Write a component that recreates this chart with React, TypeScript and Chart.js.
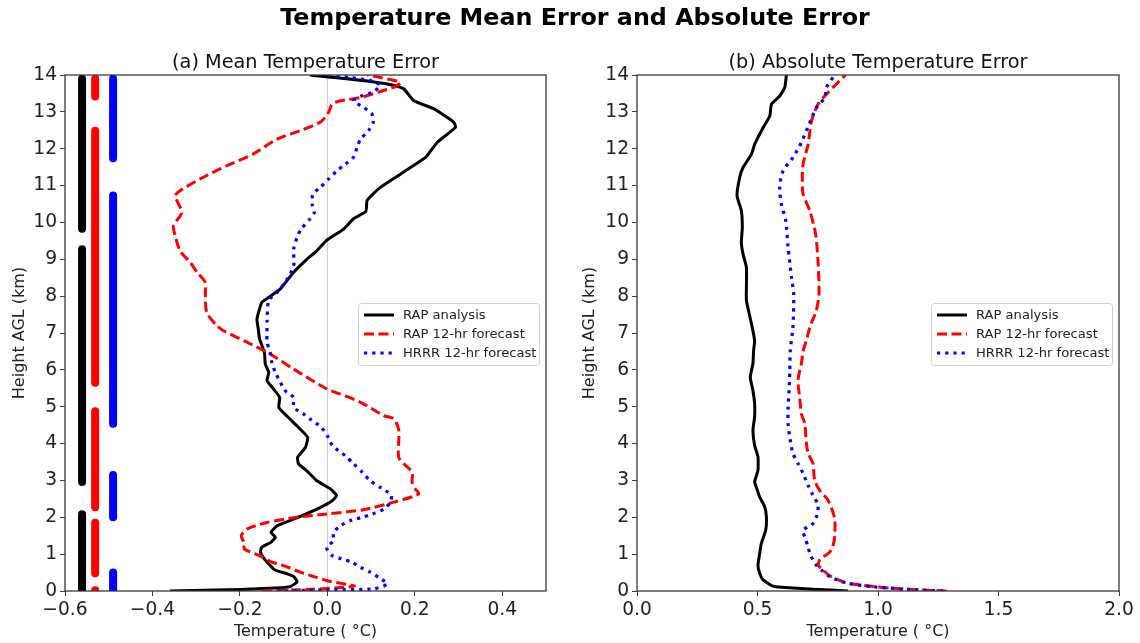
import React, { useEffect, useRef } from "react";
import { Chart, registerables } from "chart.js";

Chart.register(...registerables);

const FONT = "'DejaVu Sans', 'Liberation Sans', sans-serif";

type Profile = [number, number][]; // [height AGL (km), temperature error (°C)]

// ---- (a) Mean temperature error profiles ----
const meanRapAnalysis: Profile = [
  [0.0, -0.36], [0.04, -0.2], [0.08, -0.12], [0.12, -0.085], [0.25, -0.069], [0.39, -0.077],
  [0.46, -0.09], [0.57, -0.12], [0.75, -0.135], [0.9, -0.146], [1.05, -0.153], [1.19, -0.15],
  [1.32, -0.129], [1.46, -0.119], [1.59, -0.129], [1.77, -0.115], [1.95, -0.077], [2.22, -0.024],
  [2.45, 0.011], [2.59, 0.021], [2.77, 0.007], [2.99, -0.024], [3.26, -0.047], [3.45, -0.066],
  [3.63, -0.068], [3.9, -0.05], [4.17, -0.045], [4.39, -0.062], [4.74, -0.092], [4.98, -0.111],
  [5.25, -0.109], [5.48, -0.123], [5.71, -0.138], [5.93, -0.134], [6.16, -0.142], [6.47, -0.144],
  [6.84, -0.155], [7.11, -0.158], [7.38, -0.161], [7.83, -0.15], [7.97, -0.134], [8.19, -0.108],
  [8.65, -0.077], [9.0, -0.047], [9.23, -0.024], [9.5, -0.003], [9.82, 0.037], [10.1, 0.06],
  [10.3, 0.088], [10.6, 0.091], [10.95, 0.121], [11.31, 0.167], [11.77, 0.225], [12.17, 0.251],
  [12.58, 0.293], [12.72, 0.289], [13.08, 0.244], [13.3, 0.198], [13.62, 0.175], [13.71, 0.156],
  [13.84, 0.091], [14.0, -0.04],
];

const meanRapForecast: Profile = [
  [0.0, -0.15], [0.05, -0.03], [0.1, 0.04], [0.14, 0.062], [0.2, 0.035], [0.28, 0.0],
  [0.37, -0.025], [0.51, -0.062], [0.69, -0.1], [0.8, -0.13], [0.96, -0.155], [1.14, -0.19],
  [1.3, -0.19], [1.5, -0.197], [1.68, -0.184], [1.86, -0.138], [2.0, -0.07], [2.09, -0.001],
  [2.2, 0.08], [2.41, 0.152], [2.63, 0.209], [2.77, 0.201], [2.95, 0.194], [3.22, 0.194],
  [3.45, 0.175], [3.63, 0.163], [3.99, 0.163], [4.39, 0.163], [4.67, 0.152], [4.76, 0.129],
  [5.12, 0.076], [5.34, 0.03], [5.48, -0.001], [6.02, -0.077], [6.48, -0.138], [6.75, -0.184],
  [7.06, -0.237], [7.2, -0.253], [7.56, -0.276], [8.1, -0.279], [8.37, -0.279], [8.65, -0.298],
  [8.92, -0.314], [9.23, -0.337], [9.64, -0.348], [9.91, -0.352], [10.27, -0.333], [10.72, -0.348],
  [10.86, -0.337], [11.18, -0.291], [11.54, -0.23], [11.86, -0.169], [12.26, -0.115], [12.49, -0.062],
  [12.72, -0.016], [12.85, -0.005], [12.99, 0.003], [13.21, 0.011], [13.3, 0.03], [13.39, 0.076],
  [13.55, 0.12], [13.67, 0.152], [13.8, 0.167], [13.93, 0.121], [14.0, 0.091],
];

const meanHrrrForecast: Profile = [
  [0.0, -0.115], [0.03, 0.0], [0.06, 0.106], [0.19, 0.137], [0.34, 0.121], [0.51, 0.098],
  [0.64, 0.076], [0.78, 0.056], [0.87, 0.033], [0.96, 0.011], [1.14, -0.001], [1.22, 0.0],
  [1.36, 0.014], [1.59, 0.014], [1.77, 0.03], [1.91, 0.053], [2.0, 0.08], [2.09, 0.103],
  [2.22, 0.129], [2.41, 0.144], [2.6, 0.146], [2.81, 0.121], [2.99, 0.098], [3.22, 0.08],
  [3.45, 0.06], [3.67, 0.041], [3.94, 0.012], [4.21, 0.0], [4.44, -0.014], [4.67, -0.04],
  [4.8, -0.054], [4.98, -0.077], [5.25, -0.077], [5.43, -0.096], [5.93, -0.119], [6.2, -0.127],
  [6.48, -0.131], [6.75, -0.138], [7.02, -0.138], [7.33, -0.138], [7.88, -0.134], [8.1, -0.115],
  [8.46, -0.092], [8.83, -0.077], [9.28, -0.077], [9.6, -0.069], [9.82, -0.06], [10.09, -0.04],
  [10.27, -0.03], [10.5, -0.035], [10.77, -0.033], [10.95, -0.016], [11.18, 0.003], [11.4, 0.022],
  [11.58, 0.041], [11.77, 0.06], [12.04, 0.068], [12.26, 0.076], [12.49, 0.094], [12.72, 0.105],
  [12.94, 0.102], [13.12, 0.083], [13.3, 0.06], [13.44, 0.08], [13.53, 0.102], [13.71, 0.121],
  [13.84, 0.102], [13.93, 0.053], [14.0, 0.0],
];

// Height ranges (km) where each mean error is flagged significant, and the column each is drawn in
const sigRapAnalysis: [number, number][] = [[0, 2.08], [2.96, 9.27], [9.83, 13.9]];
const sigRapForecast: [number, number][] = [[0, 0.02], [0.48, 1.85], [2.27, 4.88], [5.65, 12.49], [13.42, 13.9]];
const sigHrrrForecast: [number, number][] = [[0, 0.5], [2.0, 3.15], [4.54, 10.73], [11.74, 13.9]];
const sigColumns = { rapAnalysis: -0.561, rapForecast: -0.531, hrrrForecast: -0.49 };

// ---- (b) Absolute temperature error profiles ----
const absRapAnalysis: Profile = [
  [0.0, 0.876], [0.05, 0.73], [0.1, 0.6], [0.13, 0.564], [0.3, 0.523], [0.48, 0.509],
  [0.7, 0.502], [1.02, 0.509], [1.29, 0.516], [1.65, 0.534], [2.01, 0.537], [2.28, 0.53],
  [2.55, 0.509], [2.82, 0.495], [2.96, 0.488], [3.28, 0.502], [3.64, 0.502], [3.95, 0.488],
  [4.36, 0.481], [4.72, 0.488], [5.08, 0.488], [5.44, 0.481], [5.8, 0.47], [6.17, 0.481],
  [6.53, 0.484], [6.8, 0.488], [7.25, 0.475], [7.88, 0.454], [8.24, 0.454], [8.78, 0.454],
  [9.14, 0.44], [9.46, 0.433], [9.86, 0.437], [10.32, 0.433], [10.72, 0.415], [11.22, 0.426],
  [11.49, 0.44], [11.85, 0.475], [12.12, 0.488], [12.57, 0.523], [12.89, 0.551], [13.21, 0.558],
  [13.43, 0.592], [13.66, 0.613], [14.0, 0.62],
];

const absRapForecast: Profile = [
  [0.0, 1.284], [0.05, 1.118], [0.12, 0.98], [0.22, 0.869], [0.41, 0.8], [0.57, 0.772],
  [0.7, 0.752], [0.84, 0.758], [1.06, 0.8], [1.2, 0.812], [1.47, 0.82], [1.97, 0.82],
  [2.46, 0.793], [2.73, 0.758], [3.01, 0.737], [3.46, 0.73], [3.73, 0.71], [4.0, 0.703],
  [4.54, 0.696], [4.81, 0.682], [5.26, 0.675], [5.71, 0.668], [6.17, 0.682], [6.53, 0.69],
  [6.84, 0.705], [7.16, 0.717], [7.61, 0.744], [8.06, 0.755], [8.96, 0.751], [9.69, 0.741],
  [10.32, 0.717], [10.77, 0.689], [11.22, 0.686], [11.58, 0.689], [12.12, 0.71], [12.75, 0.724],
  [13.21, 0.751], [13.43, 0.779], [13.66, 0.813], [14.0, 0.865],
];

const absHrrrForecast: Profile = [
  [0.0, 1.27], [0.05, 1.11], [0.12, 0.975], [0.22, 0.865], [0.41, 0.795], [0.57, 0.765],
  [0.7, 0.744], [0.84, 0.73], [1.02, 0.717], [1.2, 0.71], [1.47, 0.696], [1.65, 0.689],
  [1.83, 0.73], [2.06, 0.747], [2.33, 0.751], [2.6, 0.73], [2.87, 0.71], [3.19, 0.689],
  [3.46, 0.668], [3.73, 0.647], [4.09, 0.636], [4.54, 0.627], [4.99, 0.627], [5.44, 0.631],
  [5.98, 0.634], [6.53, 0.636], [7.16, 0.647], [8.06, 0.65], [8.51, 0.641], [9.32, 0.627],
  [10.05, 0.617], [10.5, 0.599], [10.95, 0.592], [11.4, 0.606], [11.76, 0.647], [12.17, 0.682],
  [12.71, 0.717], [13.11, 0.744], [13.38, 0.779], [13.66, 0.786], [14.0, 0.82],
];

// Axis ranges and tick values
const heightRange = [0, 14];
const heightTicks = [0, 1, 2, 3, 4, 5, 6, 7, 8, 9, 10, 11, 12, 13, 14];
const meanRange = [-0.6, 0.5];
const meanTicks = [-0.6, -0.4, -0.2, 0.0, 0.2, 0.4];
const absRange = [0, 2];
const absTicks = [0.0, 0.5, 1.0, 1.5, 2.0];

const seriesLabels = ["RAP analysis", "RAP 12-hr forecast", "HRRR 12-hr forecast"];

// ---- styling ----
const STYLES = [
  { color: "#000000", width: 3, dash: [] as number[], tension: 0.15 },
  { color: "#ff0000", width: 3, dash: [10, 4.5], tension: 0.25 },
  { color: "#0000ff", width: 3.2, dash: [3.2, 5], tension: 0.25 },
];

const toXY = (p: Profile) => p.map(([h, t]) => ({ x: t, y: h }));

function barData(x: number, ranges: [number, number][]) {
  const out: { x: number; y: number | null }[] = [];
  ranges.forEach(([a, b]) => {
    out.push({ x, y: a }, { x, y: b }, { x, y: null });
  });
  return out;
}

function profileDataset(p: Profile, i: number) {
  const s = STYLES[i];
  return {
    label: seriesLabels[i],
    data: toXY(p),
    showLine: true,
    borderColor: s.color,
    backgroundColor: s.color,
    borderWidth: s.width,
    borderDash: s.dash,
    borderCapStyle: "butt" as const,
    borderJoinStyle: "round" as const,
    tension: s.tension,
    pointRadius: 0,
    pointHoverRadius: 0,
    fill: false,
    clip: 0,
    order: 2 - i,
  };
}

function barDataset(x: number, ranges: [number, number][], color: string) {
  return {
    label: "",
    data: barData(x, ranges),
    showLine: true,
    borderColor: color,
    borderWidth: 8,
    borderCapStyle: "round" as const,
    pointRadius: 0,
    pointHoverRadius: 0,
    spanGaps: false,
    fill: false,
    clip: 0,
    order: 5,
  };
}

function fmtTick(v: number) {
  const r = Math.abs(v) < 1e-9 ? 0 : v;
  return r.toFixed(1).replace("-", "\u2212");
}

const frameAndLegend = (title: string) => ({
  id: "frameAndLegend",
  afterDraw(chart: Chart) {
    const { ctx, chartArea: a } = chart;
    ctx.save();
    // full frame
    ctx.strokeStyle = "#3a3a3a";
    ctx.lineWidth = 1.3;
    ctx.setLineDash([]);
    ctx.strokeRect(a.left, a.top, a.right - a.left, a.bottom - a.top);

    // panel title
    ctx.fillStyle = "#111";
    ctx.font = `19.3px ${FONT}`;
    ctx.textAlign = "center";
    ctx.textBaseline = "alphabetic";
    ctx.fillText(title, (a.left + a.right) / 2, a.top - 7);

    // legend box
    const bx = a.right - 188;
    const by = a.top + 228;
    const bw = 181;
    const bh = 62;
    ctx.fillStyle = "rgba(255,255,255,0.85)";
    ctx.strokeStyle = "#d0d0d0";
    ctx.lineWidth = 1;
    ctx.beginPath();
    (ctx as any).roundRect(bx + 0.5, by + 0.5, bw, bh, 3);
    ctx.fill();
    ctx.stroke();

    ctx.font = `13.1px ${FONT}`;
    ctx.textAlign = "left";
    ctx.textBaseline = "middle";
    seriesLabels.forEach((lbl, i) => {
      const s = STYLES[i];
      const y = by + 12 + i * 19;
      ctx.strokeStyle = s.color;
      ctx.lineWidth = s.width;
      ctx.setLineDash(s.dash);
      ctx.lineCap = "butt";
      ctx.beginPath();
      ctx.moveTo(bx + 6, y);
      ctx.lineTo(bx + 36, y);
      ctx.stroke();
      ctx.setLineDash([]);
      ctx.fillStyle = "#222";
      ctx.fillText(lbl, bx + 45, y + 1);
    });
    ctx.restore();
  },
});

function makeConfig(opts: {
  datasets: any[];
  xRange: number[];
  xTicks: number[];
  title: string;
  area: { left: number; right: number; top: number; bottom: number };
  width: number;
  height: number;
}) {
  const { area, width, height } = opts;
  const tickFont = { family: FONT, size: 18.67 };
  const titleFont = { family: FONT, size: 16 };
  return {
    type: "scatter" as const,
    data: { datasets: opts.datasets },
    plugins: [frameAndLegend(opts.title)],
    options: {
      responsive: false,
      maintainAspectRatio: false,
      animation: false as const,
      devicePixelRatio: 1,
      events: [] as any[],
      layout: { padding: { left: 0, top: area.top, right: width - area.right, bottom: 0 } },
      plugins: { legend: { display: false }, tooltip: { enabled: false }, title: { display: false } },
      scales: {
        x: {
          type: "linear" as const,
          min: opts.xRange[0],
          max: opts.xRange[1],
          afterBuildTicks: (s: any) => {
            s.ticks = opts.xTicks.map((v) => ({ value: v }));
          },
          afterFit: (s: any) => {
            s.height = height - area.bottom;
          },
          ticks: {
            autoSkip: false,
            maxRotation: 0,
            padding: 3,
            color: "#222",
            font: tickFont,
            callback: (v: number | string) => fmtTick(Number(v)),
          },
          grid: { display: true, drawOnChartArea: false, drawTicks: true, tickLength: 5, color: "#3a3a3a", lineWidth: 1 },
          border: { display: false },
          title: { display: true, text: "Temperature ( \u00B0C)", color: "#222", font: titleFont, padding: { top: 0, bottom: 2 } },
        },
        y: {
          type: "linear" as const,
          min: heightRange[0],
          max: heightRange[1],
          afterBuildTicks: (s: any) => {
            s.ticks = heightTicks.map((v) => ({ value: v }));
          },
          afterFit: (s: any) => {
            s.width = area.left;
          },
          ticks: {
            autoSkip: false,
            padding: 3,
            color: "#222",
            font: tickFont,
            callback: (v: number | string) => String(Math.round(Number(v))),
          },
          grid: { display: true, drawOnChartArea: false, drawTicks: true, tickLength: 5, color: "#3a3a3a", lineWidth: 1 },
          border: { display: false },
          title: { display: true, text: "Height AGL (km)", color: "#222", font: titleFont, padding: { top: 10, bottom: 0 } },
        },
      },
    },
  };
}

export default function App() {
  const leftRef = useRef<HTMLCanvasElement>(null);
  const rightRef = useRef<HTMLCanvasElement>(null);

  useEffect(() => {
    const zeroLine = {
      label: "",
      data: [{ x: 0, y: heightRange[0] }, { x: 0, y: heightRange[1] }],
      showLine: true,
      borderColor: "#cccccc",
      borderWidth: 1,
      pointRadius: 0,
      clip: 0,
      order: 6,
    };
    const meanChart = new Chart(
      leftRef.current!,
      makeConfig({
        datasets: [
          profileDataset(meanRapAnalysis, 0),
          profileDataset(meanRapForecast, 1),
          profileDataset(meanHrrrForecast, 2),
          barDataset(sigColumns.rapAnalysis, sigRapAnalysis, STYLES[0].color),
          barDataset(sigColumns.rapForecast, sigRapForecast, STYLES[1].color),
          barDataset(sigColumns.hrrrForecast, sigHrrrForecast, STYLES[2].color),
          zeroLine,
        ],
        xRange: meanRange,
        xTicks: meanTicks,
        title: "(a) Mean Temperature Error",
        area: { left: 65, right: 546, top: 75, bottom: 591 },
        width: 570,
        height: 643,
      }) as any
    );
    const absChart = new Chart(
      rightRef.current!,
      makeConfig({
        datasets: [
          profileDataset(absRapAnalysis, 0),
          profileDataset(absRapForecast, 1),
          profileDataset(absHrrrForecast, 2),
        ],
        xRange: absRange,
        xTicks: absTicks,
        title: "(b) Absolute Temperature Error",
        area: { left: 67, right: 549, top: 75, bottom: 591 },
        width: 570,
        height: 643,
      }) as any
    );
    return () => {
      meanChart.destroy();
      absChart.destroy();
    };
  }, []);

  return (
    <div
      style={{
        position: "absolute",
        left: 0,
        top: 0,
        width: 1140,
        height: 643,
        background: "#ffffff",
        overflow: "hidden",
      }}
    >
      <canvas ref={leftRef} width={570} height={643} style={{ position: "absolute", left: 0, top: 0 }} />
      <canvas ref={rightRef} width={570} height={643} style={{ position: "absolute", left: 570, top: 0 }} />
      <div
        style={{
          position: "absolute",
          left: 0,
          top: 6,
          width: 1150,
          textAlign: "center",
          fontFamily: FONT,
          fontWeight: "bold",
          fontSize: 23.8,
          lineHeight: "23.8px",
          color: "#000",
          whiteSpace: "nowrap",
        }}
      >
        Temperature Mean Error and Absolute Error
      </div>
    </div>
  );
}
